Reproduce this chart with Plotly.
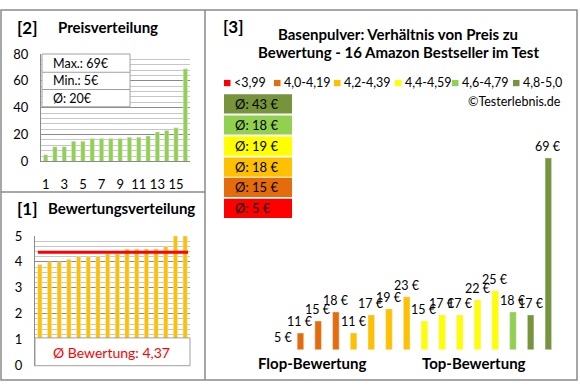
import plotly.graph_objects as go

W, H = 580, 390

# ---------------- data ----------------
product_rank = list(range(1, 17))
prices_sorted = [5, 11, 11, 15, 15, 17, 17, 17, 17, 18, 18, 19, 22, 23, 25, 69]
ratings_sorted = [3.9, 4.0, 4.0, 4.1, 4.2, 4.2, 4.2, 4.3, 4.3, 4.5, 4.5, 4.5, 4.5, 4.6, 5.0, 5.0]
avg_rating_text = "4,37"
avg_rating = 4.37
prices_by_rating = [5, 11, 15, 18, 11, 17, 19, 23, 15, 17, 17, 22, 25, 18, 17, 69]
class_by_rating = [0, 1, 1, 1, 2, 2, 2, 2, 3, 3, 3, 3, 3, 4, 5, 5]
class_labels = ["<3,99", "4,0-4,19", "4,2-4,39", "4,4-4,59", "4,6-4,79", "4,8-5,0"]
price_tick_vals = [1, 3, 5, 7, 9, 11, 13, 15]

# ---------------- styles ----------------
FONT = "Lato"
C_RED, C_ORANGE, C_GOLD, C_YELLOW, C_LGREEN, C_DGREEN = (
    "#FF0000", "#E46C0A", "#FFC000", "#FFFF00", "#92D050", "#77933C")
class_colors = [C_RED, C_ORANGE, C_GOLD, C_YELLOW, C_LGREEN, C_DGREEN]
GRID_MAJ = "#8a8a8a"
GRID_MIN = "#c6c6c6"
FRAME = "#8a8a8a"


def px(x):
    return x / W


def py(y):
    return 1 - y / H


fig = go.Figure()

# Panel [2] price distribution
fig.add_trace(go.Bar(x=product_rank, y=prices_sorted, marker_color=C_LGREEN,
                     width=0.47, xaxis="x", yaxis="y", hoverinfo="skip"))
# Panel [1] rating distribution
fig.add_trace(go.Bar(x=product_rank, y=ratings_sorted, marker_color=C_GOLD,
                     width=0.44, xaxis="x2", yaxis="y2", hoverinfo="skip"))
# Panel [3] price vs rating
fig.add_trace(go.Bar(x=product_rank, y=prices_by_rating,
                     marker_color=[class_colors[c] for c in class_by_rating],
                     width=0.37, xaxis="x3", yaxis="y3", hoverinfo="skip"))

Y3_MIN = 5.6
Y3_MAX = 86.9

fig.update_layout(
    width=W, height=H, autosize=False,
    margin=dict(l=0, r=0, t=0, b=0),
    paper_bgcolor="white", plot_bgcolor="white",
    showlegend=False, bargap=0,
    font=dict(family=FONT, size=12, color="#000000"),
    xaxis=dict(domain=[px(41), px(190)], range=[0.5, 16.5], anchor="y",
               tickvals=price_tick_vals, ticks="outside", ticklen=11,
               tickcolor="rgba(0,0,0,0)", showgrid=False, showline=True,
               linecolor=GRID_MAJ, linewidth=1, zeroline=False,
               tickfont=dict(size=13, family=FONT)),
    yaxis=dict(domain=[py(160), py(48)], range=[0, 80], anchor="x",
               dtick=20, ticks="outside", ticklen=9, tickcolor="rgba(0,0,0,0)",
               showgrid=True, gridcolor=GRID_MAJ, gridwidth=1,
               minor=dict(dtick=4, showgrid=True, gridcolor=GRID_MIN, gridwidth=1),
               showline=True, linecolor=GRID_MAJ, linewidth=1, zeroline=False,
               tickfont=dict(size=13, family=FONT)),
    xaxis2=dict(domain=[px(35), px(190)], range=[0.5, 16.5], anchor="y2",
                showticklabels=False, showgrid=False, showline=False, zeroline=False),
    yaxis2=dict(domain=[py(373), py(237.7)], range=[0, 5], anchor="x2",
                dtick=1, ticks="outside", ticklen=9, tickcolor="rgba(0,0,0,0)",
                showgrid=True, gridcolor=GRID_MAJ, gridwidth=1,
                minor=dict(dtick=0.2, showgrid=True, gridcolor=GRID_MIN, gridwidth=1),
                showline=True, linecolor=GRID_MAJ, linewidth=1, zeroline=False,
                tickfont=dict(size=13, family=FONT)),
    xaxis3=dict(domain=[px(273.9), px(557.2)], range=[0.5, 16.5], anchor="y3",
                visible=False),
    yaxis3=dict(domain=[py(356), py(100)], range=[Y3_MIN, Y3_MAX], anchor="x3",
                visible=False),
)

shapes = []
annotations = []

# frame
line = dict(color=FRAME, width=1.5)
shapes.append(dict(type="rect", xref="paper", yref="paper", x0=px(1), y0=py(388),
                   x1=px(577), y1=py(2), line=line, layer="above"))
shapes.append(dict(type="line", xref="paper", yref="paper", x0=px(205), y0=py(2),
                   x1=px(205), y1=py(388), line=line, layer="above"))
shapes.append(dict(type="line", xref="paper", yref="paper", x0=px(1), y0=py(192),
                   x1=px(205), y1=py(192), line=line, layer="above"))


def text(x, y, s, size=12, bold=False, color="#000000", xanchor="left", yanchor="middle"):
    if bold:
        s = "<b>" + s + "</b>"
    annotations.append(dict(xref="paper", yref="paper", x=px(x), y=py(y), text=s,
                            showarrow=False, xanchor=xanchor, yanchor=yanchor,
                            font=dict(family=FONT, size=size, color=color)))


# panel [2] titles and stats box
text(15, 20, "[2]", size=17, bold=True)
text(56, 20, "Preisverteilung", size=15, bold=True)
box_line = dict(color="#a0a0a0", width=1)
shapes.append(dict(type="rect", xref="paper", yref="paper", x0=px(42), y0=py(103),
                   x1=px(130), y1=py(48), line=box_line, fillcolor="white", layer="above"))
for yy in (67, 85):
    shapes.append(dict(type="line", xref="paper", yref="paper", x0=px(42), y0=py(yy),
                       x1=px(130), y1=py(yy), line=box_line, layer="above"))
stats = [f"Max.: {max(prices_sorted)}€", f"Min.: {min(prices_sorted)}€",
         f"Ø: {round(sum(prices_sorted) / len(prices_sorted))}€"]
for s, yy in zip(stats, (58, 76, 94)):
    text(51, yy, s, size=12.5)

# panel [1]
text(15, 209, "[1]", size=17, bold=True)
text(46, 209, "Bewertungsverteilung", size=15, bold=True)
shapes.append(dict(type="line", xref="x2", yref="y2", x0=0.8, x1=16.3,
                   y0=avg_rating, y1=avg_rating, line=dict(color="#FF0000", width=3),
                   layer="above"))
shapes.append(dict(type="rect", xref="paper", yref="paper", x0=px(35), y0=py(373),
                   x1=px(190), y1=py(344), line=box_line, fillcolor="white", layer="above"))
text(111, 359, "Ø Bewertung: " + avg_rating_text, size=14, color="#FF0000", xanchor="center")

# panel [3]
text(221, 19, "[3]", size=17, bold=True)
text(398, 27, "Basenpulver: Verhältnis von Preis zu", size=15, bold=True, xanchor="center")
text(398, 46, "Bewertung - 16 Amazon Bestseller im Test", size=15, bold=True, xanchor="center")

legend_sq_x = [224, 274, 334, 395, 452, 513]
for i, (lab, col) in enumerate(zip(class_labels, class_colors)):
    x0 = legend_sq_x[i]
    shapes.append(dict(type="rect", xref="paper", yref="paper", x0=px(x0), y0=py(81.5),
                       x1=px(x0 + 6.5), y1=py(75), line=dict(width=0), fillcolor=col))
    text(x0 + 8, 78, lab, size=12.5)

text(563, 98, "©Testerlebnis.de", size=12.5, xanchor="right")

# average boxes per rating class (top = best class)
box_tops = [90, 112, 134, 156, 177, 199]
for j, cls in enumerate(reversed(range(len(class_labels)))):
    vals = [p for p, c in zip(prices_by_rating, class_by_rating) if c == cls]
    avg = round(sum(vals) / len(vals))
    top = box_tops[j]
    shapes.append(dict(type="rect", xref="paper", yref="paper", x0=px(224), y0=py(top + 20),
                       x1=px(292), y1=py(top), line=dict(width=0), fillcolor=class_colors[cls]))
    text(233, top + 10, f"Ø: {avg} €", size=13)

# price labels above bars
for i, p in zip(product_rank, prices_by_rating):
    annotations.append(dict(xref="x3", yref="y3", x=i, y=max(p, Y3_MIN), text=f"{p} €",
                            showarrow=False, xanchor="center", yanchor="bottom", yshift=2,
                            font=dict(family=FONT, size=12.5, color="#000000")))

text(312, 370, "Flop-Bewertung", size=15, bold=True, xanchor="center")
text(474, 370, "Top-Bewertung", size=15, bold=True, xanchor="center")

fig.update_layout(shapes=shapes, annotations=annotations)
fig.write_html("out.html", config={"displayModeBar": False, "staticPlot": True},
               post_script="document.body.style.margin='0';document.body.style.overflow='hidden';")
